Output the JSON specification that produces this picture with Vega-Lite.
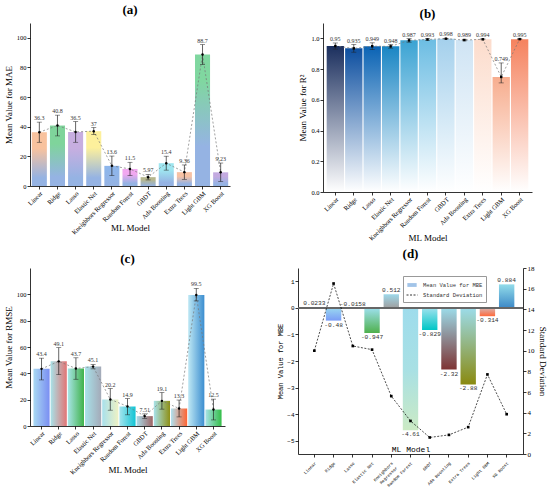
{
  "$schema": "https://vega.github.io/schema/vega-lite/v6.json",
  "padding": {"left": 4, "top": 4, "right": 2, "bottom": 1},
  "datasets": {
    "mae": [
      {"model": "Linear", "mean": 36.3, "lo": 29.5, "hi": 43.1},
      {"model": "Ridge", "mean": 40.8, "lo": 33.8, "hi": 47.8},
      {"model": "Lasso", "mean": 36.5, "lo": 29.5, "hi": 43.5},
      {"model": "Elastic Net", "mean": 37, "lo": 34.8, "hi": 39.4},
      {"model": "Kneighbors Regressor", "mean": 13.6, "lo": 7.0, "hi": 20.2},
      {"model": "Random Forest", "mean": 11.5, "lo": 7.0, "hi": 16.0},
      {"model": "GBDT", "mean": 5.97, "lo": 4.1, "hi": 7.8},
      {"model": "Ada Boosting", "mean": 15.4, "lo": 10.7, "hi": 20.1},
      {"model": "Extra Trees", "mean": 9.36, "lo": 4.5, "hi": 14.2},
      {"model": "Light GBM", "mean": 88.7, "lo": 82.0, "hi": 95.4},
      {"model": "XG Boost", "mean": 9.23, "lo": 3.0, "hi": 15.5}
    ],
    "r2": [
      {"model": "Linear", "mean": 0.95, "lo": 0.93, "hi": 0.97},
      {"model": "Ridge", "mean": 0.935, "lo": 0.91, "hi": 0.96},
      {"model": "Lasso", "mean": 0.949, "lo": 0.927, "hi": 0.971},
      {"model": "Elastic Net", "mean": 0.948, "lo": 0.936, "hi": 0.96},
      {"model": "Kneighbors Regressor", "mean": 0.987, "lo": 0.975, "hi": 0.999},
      {"model": "Random Forest", "mean": 0.993, "lo": 0.988, "hi": 0.998},
      {"model": "GBDT", "mean": 0.998, "lo": 0.996, "hi": 1.0},
      {"model": "Ada Boosting", "mean": 0.989, "lo": 0.984, "hi": 0.994},
      {"model": "Extra Trees", "mean": 0.994, "lo": 0.991, "hi": 0.997},
      {"model": "Light GBM", "mean": 0.749, "lo": 0.71, "hi": 0.84},
      {"model": "XG Boost", "mean": 0.995, "lo": 0.992, "hi": 0.998}
    ],
    "rmse": [
      {"model": "Linear", "mean": 43.4, "lo": 35.0, "hi": 51.5},
      {"model": "Ridge", "mean": 49.1, "lo": 39.0, "hi": 59.5},
      {"model": "Lasso", "mean": 43.7, "lo": 35.5, "hi": 51.8},
      {"model": "Elastic Net", "mean": 45.1, "lo": 43.4, "hi": 46.8},
      {"model": "Kneighbors Regressor", "mean": 20.2, "lo": 12.0, "hi": 28.4},
      {"model": "Random Forest", "mean": 14.9, "lo": 8.5, "hi": 20.8},
      {"model": "GBDT", "mean": 7.51, "lo": 5.8, "hi": 9.2},
      {"model": "Ada Boosting", "mean": 19.1, "lo": 12.8, "hi": 25.4},
      {"model": "Extra Trees", "mean": 13.3, "lo": 6.9, "hi": 19.7},
      {"model": "Light GBM", "mean": 99.5, "lo": 95.0, "hi": 104.5},
      {"model": "XG Boost", "mean": 12.5, "lo": 4.6, "hi": 20.4}
    ],
    "mbe": [
      {"model": "Linear", "mbe": 0.0233, "sd": 10.0},
      {"model": "Ridge", "mbe": -0.48, "sd": 16.5},
      {"model": "Lasso", "mbe": -0.0158, "sd": 10.45},
      {"model": "Elastic Net", "mbe": -0.947, "sd": 10.1},
      {"model": "Kneighbors Regressor", "mbe": 0.512, "sd": 5.6},
      {"model": "Random Forest", "mbe": -4.61, "sd": 3.2},
      {"model": "GBDT", "mbe": -0.829, "sd": 1.6},
      {"model": "Ada Boosting", "mbe": -2.32, "sd": 1.85},
      {"model": "Extra Trees", "mbe": -2.88, "sd": 2.6},
      {"model": "Light GBM", "mbe": -0.314, "sd": 7.7},
      {"model": "XG Boost", "mbe": 0.884, "sd": 3.85}
    ]
  },
  "vconcat": [
    {
      "spacing": 68,
      "hconcat": [
        {
          "title": {"text": "(a)", "offset": 6},
          "width": 200,
          "height": 163,
          "data": {"name": "mae"},
          "encoding": {
            "x": {
              "field": "model", "type": "nominal", "sort": null,
              "scale": {"paddingInner": 0.17, "paddingOuter": 0.1},
              "axis": {"title": "ML Model", "titleY": 37, "labelAngle": -45, "labelAlign": "right", "labelBaseline": "top"}
            }
          },
          "layer": [
            {
              "mark": {"type": "bar"},
              "encoding": {
                "y": {"field": "mean", "type": "quantitative", "title": "Mean Value for MAE", "scale": {"domain": [0, 110]},
                  "axis": {"values": [0, 20, 40, 60, 80, 100], "tickCount": 20}},
                "color": {
                  "condition": [
                    {"test": "datum.model === 'Linear'", "value": {"gradient": "linear", "x1": 0, "y1": 0, "x2": 0, "y2": 1, "stops": [{"offset": 0, "color": "#f8c29e"}, {"offset": 0.3, "color": "#f8c29e"}, {"offset": 0.85, "color": "#95b3e3"}, {"offset": 1, "color": "#95b3e3"}]}},
                    {"test": "datum.model === 'Ridge'", "value": {"gradient": "linear", "x1": 0, "y1": 0, "x2": 0, "y2": 1, "stops": [{"offset": 0, "color": "#7fd49b"}, {"offset": 0.3, "color": "#7fd49b"}, {"offset": 0.85, "color": "#95b3e3"}, {"offset": 1, "color": "#95b3e3"}]}},
                    {"test": "datum.model === 'Lasso'", "value": {"gradient": "linear", "x1": 0, "y1": 0, "x2": 0, "y2": 1, "stops": [{"offset": 0, "color": "#c7aee0"}, {"offset": 0.3, "color": "#c7aee0"}, {"offset": 0.85, "color": "#95b3e3"}, {"offset": 1, "color": "#95b3e3"}]}},
                    {"test": "datum.model === 'Elastic Net'", "value": {"gradient": "linear", "x1": 0, "y1": 0, "x2": 0, "y2": 1, "stops": [{"offset": 0, "color": "#fdf09c"}, {"offset": 0.3, "color": "#fdf09c"}, {"offset": 0.85, "color": "#95b3e3"}, {"offset": 1, "color": "#95b3e3"}]}},
                    {"test": "datum.model === 'Kneighbors Regressor'", "value": {"gradient": "linear", "x1": 0, "y1": 0, "x2": 0, "y2": 1, "stops": [{"offset": 0, "color": "#8cb6ec"}, {"offset": 1, "color": "#95b3e3"}]}},
                    {"test": "datum.model === 'Random Forest'", "value": {"gradient": "linear", "x1": 0, "y1": 0, "x2": 0, "y2": 1, "stops": [{"offset": 0, "color": "#f2a8f0"}, {"offset": 0.3, "color": "#f2a8f0"}, {"offset": 0.85, "color": "#95b3e3"}, {"offset": 1, "color": "#95b3e3"}]}},
                    {"test": "datum.model === 'GBDT'", "value": {"gradient": "linear", "x1": 0, "y1": 0, "x2": 0, "y2": 1, "stops": [{"offset": 0, "color": "#b6b78e"}, {"offset": 0.3, "color": "#b6b78e"}, {"offset": 1, "color": "#95b3e3"}]}},
                    {"test": "datum.model === 'Ada Boosting'", "value": {"gradient": "linear", "x1": 0, "y1": 0, "x2": 0, "y2": 1, "stops": [{"offset": 0, "color": "#9fe6f0"}, {"offset": 0.3, "color": "#9fe6f0"}, {"offset": 0.85, "color": "#95b3e3"}, {"offset": 1, "color": "#95b3e3"}]}},
                    {"test": "datum.model === 'Extra Trees'", "value": {"gradient": "linear", "x1": 0, "y1": 0, "x2": 0, "y2": 1, "stops": [{"offset": 0, "color": "#f7c2a4"}, {"offset": 0.3, "color": "#f7c2a4"}, {"offset": 0.85, "color": "#95b3e3"}, {"offset": 1, "color": "#95b3e3"}]}},
                    {"test": "datum.model === 'Light GBM'", "value": {"gradient": "linear", "x1": 0, "y1": 0, "x2": 0, "y2": 1, "stops": [{"offset": 0, "color": "#80d7a0"}, {"offset": 0.2, "color": "#80d7a0"}, {"offset": 0.7, "color": "#95b3e3"}, {"offset": 1, "color": "#95b3e3"}]}}
                  ],
                  "value": {"gradient": "linear", "x1": 0, "y1": 0, "x2": 0, "y2": 1, "stops": [{"offset": 0, "color": "#c3aae0"}, {"offset": 0.3, "color": "#c3aae0"}, {"offset": 0.85, "color": "#95b3e3"}, {"offset": 1, "color": "#95b3e3"}]}
                }
              }
            },
            {
              "mark": {"type": "line", "strokeDash": [2, 2], "color": "#777777", "strokeWidth": 0.7},
              "encoding": {"y": {"field": "mean", "type": "quantitative", "title": "Mean Value for MAE"}}
            },
            {
              "mark": {"type": "errorbar", "color": "#222222", "thickness": 0.7, "ticks": {"size": 5, "thickness": 0.7}},
              "encoding": {"y": {"field": "lo", "type": "quantitative", "title": "Mean Value for MAE"}, "y2": {"field": "hi"}}
            },
            {
              "mark": {"type": "point", "filled": true, "size": 6, "color": "black", "opacity": 1},
              "encoding": {"y": {"field": "mean", "type": "quantitative", "title": "Mean Value for MAE"}}
            },
            {
              "mark": {"type": "text", "baseline": "bottom", "dy": -1, "fontSize": 6, "color": "#333333"},
              "encoding": {"y": {"field": "hi", "type": "quantitative", "title": "Mean Value for MAE"}, "text": {"field": "mean", "type": "nominal"}}
            }
          ]
        },
        {
          "title": {"text": "(b)", "offset": 2},
          "width": 209,
          "height": 169,
          "data": {"name": "r2"},
          "encoding": {
            "x": {
              "field": "model", "type": "nominal", "sort": null,
              "scale": {"paddingInner": 0.06, "paddingOuter": 0.2},
              "axis": {"title": "ML Model", "titleY": 41, "labelAngle": -45, "labelAlign": "right", "labelBaseline": "top"}
            }
          },
          "layer": [
            {
              "mark": {"type": "bar"},
              "encoding": {
                "y": {"field": "mean", "type": "quantitative", "title": "Mean Value for R²", "scale": {"domain": [0, 1.1]},
                  "axis": {"values": [0, 0.2, 0.4, 0.6, 0.8, 1.0], "tickCount": 20, "format": ".1f"}},
                "color": {
                  "condition": [
                    {"test": "datum.model === 'Linear'", "value": {"gradient": "linear", "x1": 0, "y1": 0, "x2": 0, "y2": 1, "stops": [{"offset": 0, "color": "#1b2f5e"}, {"offset": 1, "color": "#ffffff"}]}},
                    {"test": "datum.model === 'Ridge'", "value": {"gradient": "linear", "x1": 0, "y1": 0, "x2": 0, "y2": 1, "stops": [{"offset": 0, "color": "#0d4fa0"}, {"offset": 1, "color": "#ffffff"}]}},
                    {"test": "datum.model === 'Lasso'", "value": {"gradient": "linear", "x1": 0, "y1": 0, "x2": 0, "y2": 1, "stops": [{"offset": 0, "color": "#0a63b4"}, {"offset": 1, "color": "#ffffff"}]}},
                    {"test": "datum.model === 'Elastic Net'", "value": {"gradient": "linear", "x1": 0, "y1": 0, "x2": 0, "y2": 1, "stops": [{"offset": 0, "color": "#1a86c4"}, {"offset": 1, "color": "#ffffff"}]}},
                    {"test": "datum.model === 'Kneighbors Regressor'", "value": {"gradient": "linear", "x1": 0, "y1": 0, "x2": 0, "y2": 1, "stops": [{"offset": 0, "color": "#3ba3d3"}, {"offset": 1, "color": "#ffffff"}]}},
                    {"test": "datum.model === 'Random Forest'", "value": {"gradient": "linear", "x1": 0, "y1": 0, "x2": 0, "y2": 1, "stops": [{"offset": 0, "color": "#6cbde3"}, {"offset": 1, "color": "#ffffff"}]}},
                    {"test": "datum.model === 'GBDT'", "value": {"gradient": "linear", "x1": 0, "y1": 0, "x2": 0, "y2": 1, "stops": [{"offset": 0, "color": "#a4d0ec"}, {"offset": 1, "color": "#ffffff"}]}},
                    {"test": "datum.model === 'Ada Boosting'", "value": {"gradient": "linear", "x1": 0, "y1": 0, "x2": 0, "y2": 1, "stops": [{"offset": 0, "color": "#cfe4f4"}, {"offset": 1, "color": "#ffffff"}]}},
                    {"test": "datum.model === 'Extra Trees'", "value": {"gradient": "linear", "x1": 0, "y1": 0, "x2": 0, "y2": 1, "stops": [{"offset": 0, "color": "#fcdccc"}, {"offset": 1, "color": "#ffffff"}]}},
                    {"test": "datum.model === 'Light GBM'", "value": {"gradient": "linear", "x1": 0, "y1": 0, "x2": 0, "y2": 1, "stops": [{"offset": 0, "color": "#f7ad8e"}, {"offset": 1, "color": "#ffffff"}]}}
                  ],
                  "value": {"gradient": "linear", "x1": 0, "y1": 0, "x2": 0, "y2": 1, "stops": [{"offset": 0, "color": "#f5825e"}, {"offset": 1, "color": "#ffffff"}]}
                }
              }
            },
            {
              "mark": {"type": "line", "strokeDash": [2, 2], "color": "#777777", "strokeWidth": 0.7},
              "encoding": {"y": {"field": "mean", "type": "quantitative", "title": "Mean Value for R²"}}
            },
            {
              "mark": {"type": "errorbar", "color": "#222222", "thickness": 0.7, "ticks": {"size": 5, "thickness": 0.7}},
              "encoding": {"y": {"field": "lo", "type": "quantitative", "title": "Mean Value for R²"}, "y2": {"field": "hi"}}
            },
            {
              "mark": {"type": "point", "filled": true, "shape": "square", "size": 6, "color": "black", "opacity": 1},
              "encoding": {"y": {"field": "mean", "type": "quantitative", "title": "Mean Value for R²"}}
            },
            {
              "mark": {"type": "text", "baseline": "bottom", "dy": -1, "fontSize": 6, "color": "#333333"},
              "encoding": {"y": {"field": "hi", "type": "quantitative", "title": "Mean Value for R²"}, "text": {"field": "mean", "type": "nominal"}}
            }
          ]
        }
      ]
    },
    {
      "spacing": 51,
      "hconcat": [
        {
          "title": {"text": "(c)", "offset": 2},
          "width": 195,
          "height": 158,
          "data": {"name": "rmse"},
          "encoding": {
            "x": {
              "field": "model", "type": "nominal", "sort": null,
              "scale": {"paddingInner": 0.06, "paddingOuter": 0.2},
              "axis": {"title": "ML Model", "titleY": 39, "labelAngle": -45, "labelAlign": "right", "labelBaseline": "top"}
            }
          },
          "layer": [
            {
              "mark": {"type": "bar"},
              "encoding": {
                "y": {"field": "mean", "type": "quantitative", "title": "Mean Value for RMSE", "scale": {"domain": [0, 116]},
                  "axis": {"values": [0, 20, 40, 60, 80, 100], "tickCount": 20}},
                "color": {
                  "condition": [
                    {"test": "datum.model === 'Linear'", "value": {"gradient": "linear", "x1": 0, "y1": 0, "x2": 1, "y2": 0, "stops": [{"offset": 0, "color": "#a9d9f2"}, {"offset": 1, "color": "#7a8ef2"}]}},
                    {"test": "datum.model === 'Ridge'", "value": {"gradient": "linear", "x1": 0, "y1": 0, "x2": 1, "y2": 0, "stops": [{"offset": 0, "color": "#a8e2e8"}, {"offset": 1, "color": "#e27474"}]}},
                    {"test": "datum.model === 'Lasso'", "value": {"gradient": "linear", "x1": 0, "y1": 0, "x2": 1, "y2": 0, "stops": [{"offset": 0, "color": "#a8e4e6"}, {"offset": 1, "color": "#3fb24a"}]}},
                    {"test": "datum.model === 'Elastic Net'", "value": {"gradient": "linear", "x1": 0, "y1": 0, "x2": 1, "y2": 0, "stops": [{"offset": 0, "color": "#a8e2ea"}, {"offset": 1, "color": "#a4aab8"}]}},
                    {"test": "datum.model === 'Kneighbors Regressor'", "value": {"gradient": "linear", "x1": 0, "y1": 0, "x2": 1, "y2": 0, "stops": [{"offset": 0, "color": "#a8e0ec"}, {"offset": 1, "color": "#eef2c4"}]}},
                    {"test": "datum.model === 'Random Forest'", "value": {"gradient": "linear", "x1": 0, "y1": 0, "x2": 1, "y2": 0, "stops": [{"offset": 0, "color": "#a4e4ee"}, {"offset": 1, "color": "#10c4d4"}]}},
                    {"test": "datum.model === 'GBDT'", "value": {"gradient": "linear", "x1": 0, "y1": 0, "x2": 1, "y2": 0, "stops": [{"offset": 0, "color": "#a8dcea"}, {"offset": 1, "color": "#9e6464"}]}},
                    {"test": "datum.model === 'Ada Boosting'", "value": {"gradient": "linear", "x1": 0, "y1": 0, "x2": 1, "y2": 0, "stops": [{"offset": 0, "color": "#a8e2ea"}, {"offset": 1, "color": "#8e9016"}]}},
                    {"test": "datum.model === 'Extra Trees'", "value": {"gradient": "linear", "x1": 0, "y1": 0, "x2": 1, "y2": 0, "stops": [{"offset": 0, "color": "#b0e2f0"}, {"offset": 1, "color": "#ff6432"}]}},
                    {"test": "datum.model === 'Light GBM'", "value": {"gradient": "linear", "x1": 0, "y1": 0, "x2": 1, "y2": 0, "stops": [{"offset": 0, "color": "#bfe8f4"}, {"offset": 1, "color": "#3c8ed0"}]}}
                  ],
                  "value": {"gradient": "linear", "x1": 0, "y1": 0, "x2": 1, "y2": 0, "stops": [{"offset": 0, "color": "#a8e2e8"}, {"offset": 1, "color": "#34be48"}]}
                }
              }
            },
            {
              "mark": {"type": "line", "strokeDash": [2, 2], "color": "#777777", "strokeWidth": 0.7},
              "encoding": {"y": {"field": "mean", "type": "quantitative", "title": "Mean Value for RMSE"}}
            },
            {
              "mark": {"type": "errorbar", "color": "#222222", "thickness": 0.7, "ticks": {"size": 5, "thickness": 0.7}},
              "encoding": {"y": {"field": "lo", "type": "quantitative", "title": "Mean Value for RMSE"}, "y2": {"field": "hi"}}
            },
            {
              "mark": {"type": "point", "filled": true, "size": 6, "color": "black", "opacity": 1},
              "encoding": {"y": {"field": "mean", "type": "quantitative", "title": "Mean Value for RMSE"}}
            },
            {
              "mark": {"type": "text", "baseline": "bottom", "dy": -1, "fontSize": 6, "color": "#333333"},
              "encoding": {"y": {"field": "hi", "type": "quantitative", "title": "Mean Value for RMSE"}, "text": {"field": "mean", "type": "nominal"}}
            }
          ]
        },
        {
          "title": {"text": "(d)", "offset": 3},
          "width": 225,
          "height": 186,
          "data": {"name": "mbe"},
          "layer": [
            {
              "layer": [
                {
                  "mark": {"type": "bar"},
                  "encoding": {
                    "x": {
                      "field": "model", "type": "nominal", "sort": null,
                      "scale": {"paddingInner": 0.2, "paddingOuter": 0.45},
                      "axis": {
                        "title": "ML Model", "titleY": -3, "titleBaseline": "alphabetic", "titleFont": "Liberation Mono", "titleFontSize": 8,
                        "labelFont": "Liberation Mono", "labelFontSize": 4.3, "labelAngle": -45, "labelAlign": "right", "labelBaseline": "top", "labelPadding": 4,
                        "labelExpr": "datum.label == 'Kneighbors Regressor' ? ['Kneighbors', 'Regressor'] : datum.label"
                      }
                    },
                    "y": {"field": "mbe", "type": "quantitative", "title": "Mean Value for MBE", "scale": {"domain": [-5.5, 1.5], "nice": false},
                      "axis": {"orient": "left", "values": [-5, -4, -3, -2, -1, 0, 1], "tickCount": 20, "format": "d", "labelFont": "Liberation Mono", "labelFontSize": 6, "titleFont": "Liberation Mono", "titleFontSize": 7}},
                    "color": {
                      "condition": [
                        {"test": "datum.model === 'Linear'", "value": {"gradient": "linear", "x1": 0, "y1": 0, "x2": 0, "y2": 1, "stops": [{"offset": 0, "color": "#9edff0"}, {"offset": 1, "color": "#7f9ff2"}]}},
                        {"test": "datum.model === 'Ridge'", "value": {"gradient": "linear", "x1": 0, "y1": 0, "x2": 0, "y2": 1, "stops": [{"offset": 0, "color": "#9ad8f0"}, {"offset": 1, "color": "#7a9cf6"}]}},
                        {"test": "datum.model === 'Lasso'", "value": {"gradient": "linear", "x1": 0, "y1": 0, "x2": 0, "y2": 1, "stops": [{"offset": 0, "color": "#9edff0"}, {"offset": 1, "color": "#7f9ff2"}]}},
                        {"test": "datum.model === 'Elastic Net'", "value": {"gradient": "linear", "x1": 0, "y1": 0, "x2": 0, "y2": 1, "stops": [{"offset": 0, "color": "#9de0ee"}, {"offset": 1, "color": "#4fb04c"}]}},
                        {"test": "datum.model === 'Kneighbors Regressor'", "value": {"gradient": "linear", "x1": 0, "y1": 0, "x2": 0, "y2": 1, "stops": [{"offset": 0, "color": "#9ed8ea"}, {"offset": 1, "color": "#a0a0a0"}]}},
                        {"test": "datum.model === 'Random Forest'", "value": {"gradient": "linear", "x1": 0, "y1": 0, "x2": 0, "y2": 1, "stops": [{"offset": 0, "color": "#9edcec"}, {"offset": 0.5, "color": "#a8e0e4"}, {"offset": 1, "color": "#cbeac4"}]}},
                        {"test": "datum.model === 'GBDT'", "value": {"gradient": "linear", "x1": 0, "y1": 0, "x2": 0, "y2": 1, "stops": [{"offset": 0, "color": "#9fe2ee"}, {"offset": 1, "color": "#00c6c6"}]}},
                        {"test": "datum.model === 'Ada Boosting'", "value": {"gradient": "linear", "x1": 0, "y1": 0, "x2": 0, "y2": 1, "stops": [{"offset": 0, "color": "#9cdcea"}, {"offset": 1, "color": "#7e3434"}]}},
                        {"test": "datum.model === 'Extra Trees'", "value": {"gradient": "linear", "x1": 0, "y1": 0, "x2": 0, "y2": 1, "stops": [{"offset": 0, "color": "#9cdcea"}, {"offset": 1, "color": "#8a8a10"}]}},
                        {"test": "datum.model === 'Light GBM'", "value": {"gradient": "linear", "x1": 0, "y1": 0, "x2": 0, "y2": 1, "stops": [{"offset": 0, "color": "#d8b4b0"}, {"offset": 1, "color": "#ff6a3c"}]}}
                      ],
                      "value": {"gradient": "linear", "x1": 0, "y1": 0, "x2": 0, "y2": 1, "stops": [{"offset": 0, "color": "#92dcea"}, {"offset": 1, "color": "#3c88c6"}]}
                    }
                  }
                },
                {
                  "mark": {"type": "rule", "color": "#666666", "strokeWidth": 1.5},
                  "encoding": {"y": {"datum": 0}}
                },
                {
                  "transform": [{"filter": "datum.mbe > -0.1"}],
                  "mark": {"type": "text", "baseline": "bottom", "dy": -1, "font": "Liberation Mono", "fontSize": 6.2, "color": "#333333"},
                  "encoding": {
                    "x": {"field": "model", "type": "nominal", "sort": null},
                    "y": {"field": "mbe", "type": "quantitative", "title": "Mean Value for MBE"},
                    "text": {"field": "mbe", "type": "nominal"}
                  }
                },
                {
                  "transform": [{"filter": "datum.mbe <= -0.1"}],
                  "mark": {"type": "text", "baseline": "top", "dy": 1, "font": "Liberation Mono", "fontSize": 6.2, "color": "#333333"},
                  "encoding": {
                    "x": {"field": "model", "type": "nominal", "sort": null},
                    "y": {"field": "mbe", "type": "quantitative", "title": "Mean Value for MBE"},
                    "text": {"field": "mbe", "type": "nominal"}
                  }
                }
              ]
            },
            {
              "layer": [
                {
                  "mark": {"type": "line", "color": "black", "strokeWidth": 0.7, "strokeDash": [2, 1.5]},
                  "encoding": {
                    "x": {"field": "model", "type": "nominal", "sort": null},
                    "y": {"field": "sd", "type": "quantitative", "title": "Standard Deviation", "scale": {"domain": [0, 18], "nice": false},
                      "axis": {"orient": "right", "values": [0, 2, 4, 6, 8, 10, 12, 14, 16, 18], "tickCount": 20, "labelFontSize": 7, "titleFontSize": 9}}
                  }
                },
                {
                  "mark": {"type": "point", "filled": true, "shape": "square", "size": 7, "color": "black", "opacity": 1},
                  "encoding": {
                    "x": {"field": "model", "type": "nominal", "sort": null},
                    "y": {"field": "sd", "type": "quantitative", "title": "Standard Deviation"}
                  }
                },
                {
                  "mark": {"type": "point", "filled": false, "opacity": 0, "strokeWidth": 0.8},
                  "encoding": {
                    "x": {"field": "model", "type": "nominal", "sort": null},
                    "y": {"field": "sd", "type": "quantitative", "title": "Standard Deviation"},
                    "shape": {
                      "datum": "Standard Deviation", "type": "nominal",
                      "scale": {"domain": ["Mean Value for MBE", "Standard Deviation"], "range": ["M-0.85,-0.35H0.85V0.35H-0.85Z", "stroke"]},
                      "legend": {
                        "title": null, "orient": "none", "legendX": 373, "legendY": 253,
                        "labelFont": "Liberation Mono", "labelFontSize": 5.5, "labelColor": "#333333", "labelOffset": 5,
                        "strokeColor": "#999999", "fillColor": "white", "padding": 3, "rowPadding": 0,
                        "symbolSize": 120, "symbolStrokeWidth": 0.8, "symbolOpacity": 1
                      }
                    },
                    "fill": {
                      "datum": "Standard Deviation", "type": "nominal",
                      "scale": {"domain": ["Mean Value for MBE", "Standard Deviation"], "range": ["#a2c4e8", "transparent"]},
                      "legend": {
                        "title": null, "orient": "none", "legendX": 373, "legendY": 253,
                        "labelFont": "Liberation Mono", "labelFontSize": 5.5, "labelColor": "#333333", "labelOffset": 5,
                        "strokeColor": "#999999", "fillColor": "white", "padding": 3, "rowPadding": 0,
                        "symbolSize": 120, "symbolStrokeWidth": 0.8, "symbolOpacity": 1
                      }
                    },
                    "stroke": {
                      "datum": "Standard Deviation", "type": "nominal",
                      "scale": {"domain": ["Mean Value for MBE", "Standard Deviation"], "range": ["transparent", "black"]},
                      "legend": {
                        "title": null, "orient": "none", "legendX": 373, "legendY": 253,
                        "labelFont": "Liberation Mono", "labelFontSize": 5.5, "labelColor": "#333333", "labelOffset": 5,
                        "strokeColor": "#999999", "fillColor": "white", "padding": 3, "rowPadding": 0,
                        "symbolSize": 120, "symbolStrokeWidth": 0.8, "symbolOpacity": 1
                      }
                    },
                    "strokeDash": {
                      "datum": "Standard Deviation", "type": "nominal",
                      "scale": {"domain": ["Mean Value for MBE", "Standard Deviation"], "range": [[1, 0], [2, 1.5]]},
                      "legend": {
                        "title": null, "orient": "none", "legendX": 373, "legendY": 253,
                        "labelFont": "Liberation Mono", "labelFontSize": 5.5, "labelColor": "#333333", "labelOffset": 5,
                        "strokeColor": "#999999", "fillColor": "white", "padding": 3, "rowPadding": 0,
                        "symbolSize": 120, "symbolStrokeWidth": 0.8, "symbolOpacity": 1
                      }
                    }
                  }
                }
              ]
            }
          ],
          "resolve": {"scale": {"y": "independent"}}
        }
      ]
    }
  ],
  "spacing": 6,
  "config": {
    "view": {"stroke": null},
    "font": "Liberation Serif",
    "title": {"font": "Liberation Serif", "fontSize": 13, "fontWeight": "bold", "anchor": "middle", "color": "black"},
    "axis": {
      "grid": false, "domainColor": "black", "tickColor": "black", "labelColor": "black", "titleColor": "black",
      "titleFontWeight": "normal", "tickSize": 3, "labelFontSize": 6.5, "titleFontSize": 9,
      "labelPadding": 1, "titlePadding": 3, "domainWidth": 0.8, "tickWidth": 0.8, "labelOverlap": false,
      "labelFont": "Liberation Serif", "titleFont": "Liberation Serif"
    }
  }
}
